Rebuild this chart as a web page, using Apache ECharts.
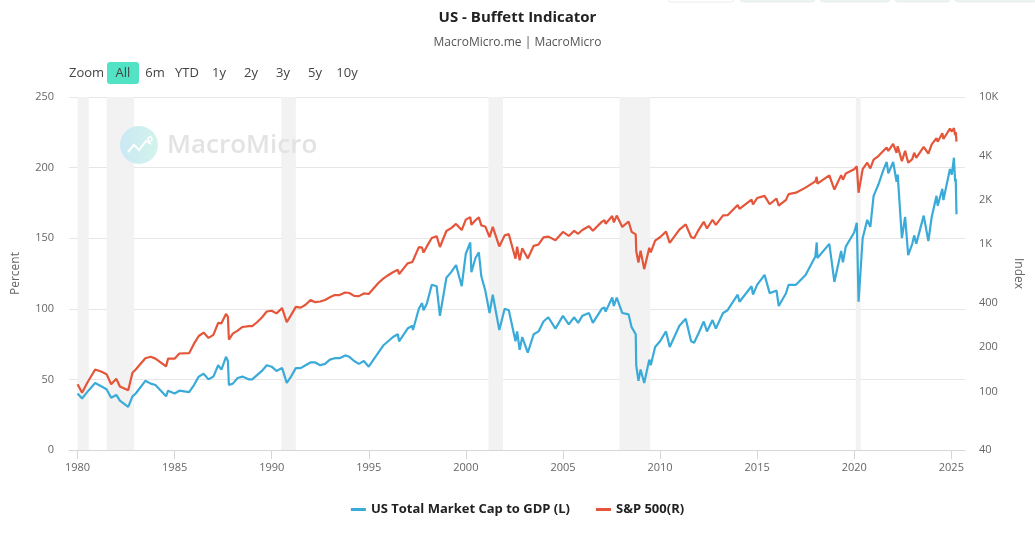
<!DOCTYPE html>
<html><head><meta charset="utf-8">
<script src="https://cdn.jsdelivr.net/npm/echarts@6/dist/echarts.min.js"></script>
<style>html,body{margin:0;padding:0;background:#fff}#c{width:1035px;height:539px}</style>
</head><body><div id="c"></div>
<script>
// ---- data ----
const mcapDates = ['1980-01-02','1980-03-27','1980-06-30','1980-11-28','1981-03-31','1981-06-30','1981-09-25','1981-12-31','1982-03-08','1982-08-12','1982-10-31','1982-12-31','1983-06-30','1983-10-10','1984-01-06','1984-07-24','1984-08-31','1984-12-31','1985-03-31','1985-09-30','1985-12-31','1986-03-31','1986-06-30','1986-09-30','1986-12-31','1987-03-31','1987-05-31','1987-08-25','1987-09-30','1987-10-19','1987-12-31','1988-03-31','1988-06-30','1988-10-31','1988-12-31','1989-03-31','1989-06-30','1989-09-30','1989-12-31','1990-03-31','1990-07-16','1990-10-11','1990-12-31','1991-03-31','1991-06-30','1991-09-30','1991-12-31','1992-03-31','1992-06-30','1992-09-30','1992-12-31','1993-03-31','1993-06-30','1993-10-15','1993-12-31','1994-03-31','1994-06-30','1994-09-30','1994-12-31','1995-03-31','1995-06-30','1995-09-30','1995-12-31','1996-03-31','1996-06-30','1996-07-24','1996-12-31','1997-03-31','1997-04-11','1997-07-31','1997-09-30','1997-10-27','1997-12-31','1998-03-31','1998-06-30','1998-08-31','1998-12-31','1999-03-31','1999-06-30','1999-10-15','1999-12-31','2000-03-24','2000-04-14','2000-06-30','2000-09-01','2000-10-18','2000-12-31','2001-03-22','2001-05-21','2001-09-21','2001-12-31','2002-03-19','2002-07-23','2002-08-22','2002-10-09','2002-11-27','2003-03-11','2003-06-30','2003-09-30','2003-12-31','2004-03-31','2004-08-12','2004-12-31','2005-04-20','2005-07-31','2005-10-13','2005-12-31','2006-05-05','2006-07-17','2006-12-31','2007-02-20','2007-03-14','2007-07-16','2007-08-16','2007-10-09','2008-01-22','2008-05-19','2008-07-15','2008-09-30','2008-10-10','2008-11-20','2008-12-31','2009-03-09','2009-06-12','2009-07-10','2009-09-30','2009-12-31','2010-04-23','2010-07-02','2010-12-31','2011-04-29','2011-08-08','2011-10-03','2011-12-31','2012-04-02','2012-06-01','2012-09-14','2012-11-15','2013-03-31','2013-06-24','2013-12-31','2014-02-03','2014-09-18','2014-10-15','2014-12-31','2015-05-21','2015-08-25','2015-12-31','2016-02-11','2016-06-27','2016-08-15','2016-12-31','2017-06-30','2017-12-31','2018-01-26','2018-02-08','2018-09-20','2018-12-24','2019-04-30','2019-06-03','2019-07-26','2019-12-31','2020-02-19','2020-03-23','2020-06-08','2020-09-02','2020-10-30','2020-12-31','2021-03-31','2021-06-30','2021-09-02','2021-10-04','2022-01-03','2022-03-08','2022-03-29','2022-06-16','2022-08-16','2022-10-12','2022-12-28','2023-02-02','2023-03-13','2023-07-31','2023-10-27','2023-12-29','2024-03-28','2024-04-19','2024-07-16','2024-08-05','2024-12-06','2025-01-10','2025-02-19','2025-03-13','2025-03-25','2025-04-08'];
const mcapValues = [40,36.5,41,47.5,45,43,37,39,35,30.5,38,40,49,47,46,38,42,40,42,41,46,52,54,50,52,60,57,66,63,46,47,51,52,50,50,53,56,60,59,56,58,47.5,52,58,58,60,62,62,60,61,64,65,65,67,66,63,61,63,59,64,69,74,77,80,82,77,86,88,85,100,104,99,104,117,116,95,122,126,131,116,139,147,126,136,140,123,113,97,110,85,100,99,77,84,71,80,69,82,84,91,94,86,95,89,94,90,95,97,90,100,101,98,108,102,108,97,96,87,82,60,49,57,47.5,64,60,73,77,84,73,88,93,77,76,83,91,84,92,86,97,99,110,105,116,110,117,124,111,113,102,111,117,117,124,137,147,136,146,119,141,133,144,154,161,105,150,163,158,180,188,198,204,196,204,190,195,150,165,138,146,152,146,166,148,165,180,173,185,177,199,195,207,190,192,167];
const spxDates = mcapDates;
const spxValues = [112,98,114,141,136,131,112,122,108,102,134,141,168,172,167,148,167,167,181,182,211,238,251,231,242,292,290,336,321,225,247,259,274,278,278,295,318,349,353,339,368,295,330,375,371,388,417,404,408,418,436,452,451,470,466,446,444,463,459,500,545,584,616,645,671,626,741,757,737,955,947,877,970,1102,1134,957,1229,1286,1373,1247,1469,1527,1356,1455,1521,1342,1320,1117,1312,966,1148,1170,797,962,777,938,800,975,996,1112,1126,1064,1212,1138,1234,1177,1248,1325,1234,1418,1459,1377,1553,1406,1565,1310,1426,1214,1166,899,752,903,677,946,879,1057,1115,1217,1022,1258,1364,1119,1099,1258,1419,1278,1466,1353,1569,1573,1848,1741,2011,1862,2059,2131,1868,2044,1829,2001,2190,2239,2423,2674,2873,2581,2931,2351,2946,2744,3025,3231,3386,2237,3232,3580,3270,3756,3973,4298,4537,4300,4796,4170,4632,3667,4305,3577,3783,4179,3855,4589,4117,4770,5254,4967,5667,5186,6090,5827,6144,5522,5777,4982];
const recessionStarts = ['1980-01-01','1981-07-01','1990-07-01','2001-03-01','2007-12-01','2020-02-01'];
const recessionEnds   = ['1980-07-31','1982-11-30','1991-03-31','2001-11-30','2009-06-30','2020-04-30'];
const xTickYears = [1980,1985,1990,1995,2000,2005,2010,2015,2020,2025];
const rightTicks = [40,100,200,400,1000,2000,4000,10000];
const zoomButtons = ['All','6m','YTD','1y','2y','3y','5y','10y'];

// ---- chart ----
const FONT = "'Open Sans', 'Noto Sans', sans-serif";
const BLUE = '#3aabd8', RED = '#e4553a';
const chart = echarts.init(document.getElementById('c'), null, {renderer:'canvas'});
const toTs = s => { const p = s.split('-').map(Number); return Date.UTC(p[0], p[1]-1, p[2]); };
const xTicks = xTickYears.map(y => Date.UTC(y,0,1));
const mcapData = mcapDates.map((d,i)=>[toTs(d), mcapValues[i]]);
const spxData = spxDates.map((d,i)=>[toTs(d), spxValues[i]]);
const bands = recessionStarts.map((s,i)=>[{xAxis:toTs(s)},{xAxis:toTs(recessionEnds[i])}]);

const btnX = [123,155,187,219,251,283,315,347];
const graphics = [
  {type:'text', x:69, y:73, style:{text:'Zoom', font:'13px '+FONT, fill:'#444', verticalAlign:'middle'}},
  {type:'rect', shape:{x:107,y:62,width:32,height:22,r:3}, style:{fill:'#52e2c4'}},
];
zoomButtons.forEach((b,i)=>{
  graphics.push({type:'text', x:btnX[i], y:73, style:{text:b, font:'13px '+FONT, fill:'#444', align:'center', verticalAlign:'middle'}});
});
graphics.push({type:'circle', shape:{cx:139,cy:145,r:19}, style:{fill:new echarts.graphic.LinearGradient(0,0,1,0,[{offset:0,color:'#cbe8f5'},{offset:1,color:'#d2f4eb'}])}, z:100});
graphics.push({type:'polyline', shape:{points:[[128,152],[134,145],[139,150],[146,141],[151,144]]}, style:{stroke:'#fff', lineWidth:2, fill:null}, z:101});
graphics.push({type:'circle', shape:{cx:150,cy:139,r:2}, style:{fill:null, stroke:'#fff', lineWidth:1.5}, z:101});
graphics.push({type:'text', x:167, y:146, style:{text:'MacroMicro', font:'600 26px '+FONT, fill:'#e3e3e3', verticalAlign:'middle'}, z:100});
[[668,66,'#fff'],[740,75,'#eaf5f2'],[820,70,'#eaf5f2'],[895,55,'#eaf5f2'],[955,82,'#eaf5f2']].forEach(b=>{
  graphics.push({type:'rect', shape:{x:b[0],y:-10,width:b[1],height:12,r:3}, style:{fill:b[2], stroke:'#ececec', lineWidth:1}});
});

chart.setOption({
  animation:false,
  backgroundColor:'#fff',
  textStyle:{fontFamily:FONT},
  title:[
    {text:'US - Buffett Indicator', left:'center', top:5, textStyle:{fontFamily:FONT, fontSize:15, fontWeight:'bold', color:'#222'}},
    {text:'MacroMicro.me | MacroMicro', left:'center', top:32, textStyle:{fontFamily:FONT, fontSize:12, fontWeight:'normal', color:'#555'}}
  ],
  legend:{
    bottom:18, left:'center', icon:'rect', itemWidth:15, itemHeight:3, itemGap:26,
    textStyle:{fontFamily:FONT, fontSize:13, fontWeight:'bold', color:'#222'},
    data:['US Total Market Cap to GDP (L)','S&P 500(R)']
  },
  grid:{left:69, right:70, top:97, bottom:89, containLabel:false},
  graphic:graphics,
  xAxis:{
    type:'value', min:Date.UTC(1979,6,25), max:Date.UTC(2025,8,15), scale:true,
    axisLine:{show:true, lineStyle:{color:'#d6d6d6'}},
    axisTick:{show:true, length:9, lineStyle:{color:'#d6d6d6'}, customValues:xTicks},
    axisLabel:{customValues:xTicks, formatter:v=>String(new Date(v).getUTCFullYear()), color:'#666', fontSize:11, fontFamily:FONT, margin:12},
    splitLine:{show:false}
  },
  yAxis:[
    {type:'value', min:0, max:250, interval:50, name:'Percent', nameLocation:'middle', nameGap:47,
     nameTextStyle:{color:'#666', fontSize:12, fontFamily:FONT},
     axisLine:{show:false}, axisTick:{show:false},
     axisLabel:{color:'#666', fontSize:11, fontFamily:FONT, margin:15},
     splitLine:{lineStyle:{color:'#e6e6e6', width:1}}},
    {type:'log', logBase:10, min:40, max:10000, position:'right', name:'Index', nameLocation:'middle', nameGap:47, nameRotate:-90,
     nameTextStyle:{color:'#666', fontSize:12, fontFamily:FONT},
     axisLine:{show:false}, axisTick:{show:false},
     axisLabel:{customValues:rightTicks, color:'#666', fontSize:11, fontFamily:FONT, margin:14, formatter:v=>v>=1000?(Math.round(v/1000)+'K'):String(Math.round(v))},
     splitLine:{show:false}}
  ],
  series:[
    {name:'US Total Market Cap to GDP (L)', type:'line', yAxisIndex:0, data:mcapData, showSymbol:false, symbol:'none',
     lineStyle:{color:BLUE, width:2.2}, itemStyle:{color:BLUE}, z:3,
     markArea:{silent:true, itemStyle:{color:'#f2f2f2'}, data:bands}},
    {name:'S&P 500(R)', type:'line', yAxisIndex:1, data:spxData, showSymbol:false, symbol:'none',
     lineStyle:{color:RED, width:2.2}, itemStyle:{color:RED}, z:4}
  ]
});
</script></body></html>
